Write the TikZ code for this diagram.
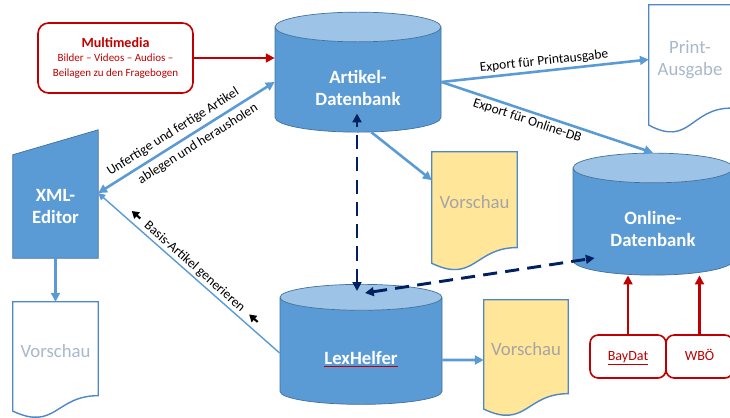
\documentclass[tikz,border=0pt]{standalone}
\usepackage{fontspec}
\setmainfont{Carlito}
\usetikzlibrary{shapes.geometric,arrows.meta,calc,backgrounds}

\definecolor{dbblue}{HTML}{5B9BD5}
\definecolor{dbtop}{HTML}{9DC3E6}
\definecolor{dbline}{HTML}{41719C}
\definecolor{mmred}{HTML}{C00000}
\definecolor{dashnavy}{HTML}{002060}
\definecolor{prevyellow}{HTML}{FFE699}
\definecolor{prevline}{HTML}{4F87C7}
\definecolor{prevtext}{HTML}{A5A5A5}
\definecolor{printtext}{HTML}{A9B8CB}

% small black arrow beside the label
\newcommand{\backtip}{\tikz[baseline=-0.6ex]\draw[draw=black, line width=1.8pt,
  -{Triangle[length=6pt,width=7pt]}] (0.34cm,0) -- (0,0);}
\newcommand{\boxstrut}{\rule[-4pt]{0pt}{14pt}}

\tikzset{
  db/.style={cylinder, shape border rotate=90, aspect=0.32, draw=dbline, line width=0.6pt,
    cylinder uses custom fill, cylinder body fill=dbblue, cylinder end fill=dbtop,
    text=white, font=\fontsize{16}{19}\selectfont\bfseries, align=center},
  prev/.style={inner sep=0pt, text=prevtext, font=\fontsize{16}{19}\selectfont, align=center},
  srcbox/.style={draw=mmred, line width=1.4pt, rounded corners=7pt, fill=white, text=mmred,
    font=\fontsize{12}{14}\selectfont, align=center, inner sep=0pt},
  lbl/.style={text=black, font=\fontsize{11.5}{13}\selectfont, inner sep=2pt},
  flow/.style={->, draw=dbblue, line width=2.2pt},
  link/.style={<->, draw=dashnavy, line width=2.5pt, dash pattern=on 12pt off 7pt}
}

\begin{document}
\begin{tikzpicture}[x=0.03cm, y=-0.03cm, >={Triangle[length=7.5pt,width=7.5pt]}]
\useasboundingbox (0,0) rectangle (730,417);

%% databases
\node[db, minimum width=4.98cm, minimum height=3.6cm] (art_db) at (358,82) {\rule{0pt}{22pt}Artikel-\\Datenbank};
\node[db, minimum width=4.8cm, minimum height=3.66cm] (online_db) at (653,224) {\rule{0pt}{20pt}Online-\\Datenbank};
\node[db, minimum width=4.86cm, minimum height=3.6cm] (lex_db) at (361,353) {\rule{0pt}{22pt}{\color{mmred}\underline{\textcolor{white}{LexHelfer}}}};

%% sources
\node[srcbox, minimum width=4.65cm, minimum height=2.1cm, rounded corners=9pt,
  font=\fontsize{9.4}{12.5}\selectfont] (multi) at (115.5,58)
  {{\fontsize{12}{14}\selectfont\bfseries Multimedia}\\Bilder – Videos – Audios –\\Beilagen zu den Fragebogen};
\node[srcbox, minimum width=2.28cm, minimum height=1.29cm] (baydat) at (628,356.5) {\boxstrut\underline{BayDat}};
\node[srcbox, minimum width=2.01cm, minimum height=1.29cm] (wboe) at (699.5,356.5) {\boxstrut WBÖ};

%% editor and previews
\node[inner sep=0pt, minimum width=2.55cm, minimum height=3.09cm, text=white,
  font=\fontsize{16}{19}\selectfont\bfseries, align=center] (xml_ed) at (55.5,206.5) {XML-\\Editor};
\node[prev, minimum width=2.55cm, minimum height=3.03cm] (prev_art) at (474.5,202.5) {Vorschau};
\node[prev, text=printtext, minimum width=2.55cm, minimum height=2.97cm] (prev_xml) at (55.5,351.5) {Vorschau};
\node[prev, minimum width=2.52cm, minimum height=2.97cm] (prev_lex) at (526,349.5) {Vorschau};
\node[prev, text=printtext, minimum width=2.46cm, minimum height=3.27cm] (print_out) at (690,59.5) {Print-\\Ausgabe};

\begin{scope}[on background layer]
  \filldraw[fill=dbblue, draw=dbline, line width=0.6pt] (xml_ed.south west) -- (xml_ed.south east)
    -- ($(xml_ed.north east)+(0,-25)$) -- (xml_ed.north west) -- cycle;
  \foreach \d/\f in {prev_art/prevyellow, prev_xml/white, prev_lex/prevyellow, print_out/white}
    \filldraw[fill=\f, draw=prevline, line width=1.2pt] (\d.north west) -- (\d.north east)
      -- ($(\d.north east)!0.944!(\d.south east)$)
      .. controls ($(\d.north)!0.944!(\d.south)$) and ($(\d.north)!1.302!(\d.south)$)
      .. ($(\d.north west)!1.099!(\d.south west)$) -- cycle;
\end{scope}

%% connections
\coordinate (xml_in) at ($(xml_ed.north east)!0.37!(xml_ed.south east)$);
\draw[flow, draw=mmred] (multi.east) -- (multi.east -| art_db.west);
\draw[flow, <->] (xml_in) -- (art_db.west)
  node[lbl, pos=0.46, above, sloped, inner sep=4pt] {Unfertige und fertige Artikel}
  node[lbl, pos=0.53, below, sloped, inner sep=4pt] {ablegen und herausholen};
\draw[->, draw=dbblue, line width=1.2pt, >={Triangle[length=6pt,width=6pt]}] (lex_db.west) -- (xml_in)
  node[lbl, midway, above, sloped] {\backtip\enspace Basis-Artikel generieren\enspace\backtip};
\draw[flow] (art_db.east) -- (print_out.west)
  node[lbl, midway, above, sloped] {Export für Printausgabe};
\draw[flow] (art_db.east) -- (online_db.north)
  node[lbl, pos=0.42, below, sloped] {Export für Online-DB};
\draw[flow] (art_db.-75) -- ($(prev_art.north west)!0.28!(prev_art.south west)$);
\draw[flow] (xml_ed.south) -- (prev_xml.north);
\draw[flow] ($(lex_db.east)+(0,7)$) -- ($(prev_lex.west)+(0,10.5)$);
\draw[flow, draw=mmred] (baydat.north) -- (baydat.north |- online_db.south);
\draw[flow, draw=mmred] (wboe.north) -- (wboe.north |- online_db.south);

%% LexHelfer links
\draw[link] ($(lex_db.north)+(-4,7)$) -- ($(art_db.south)+(-1,-19)$);
\draw[link] ($(lex_db.north)+(4,9)$) -- ($(online_db.west)+(22,34)$);

\end{tikzpicture}
\end{document}
